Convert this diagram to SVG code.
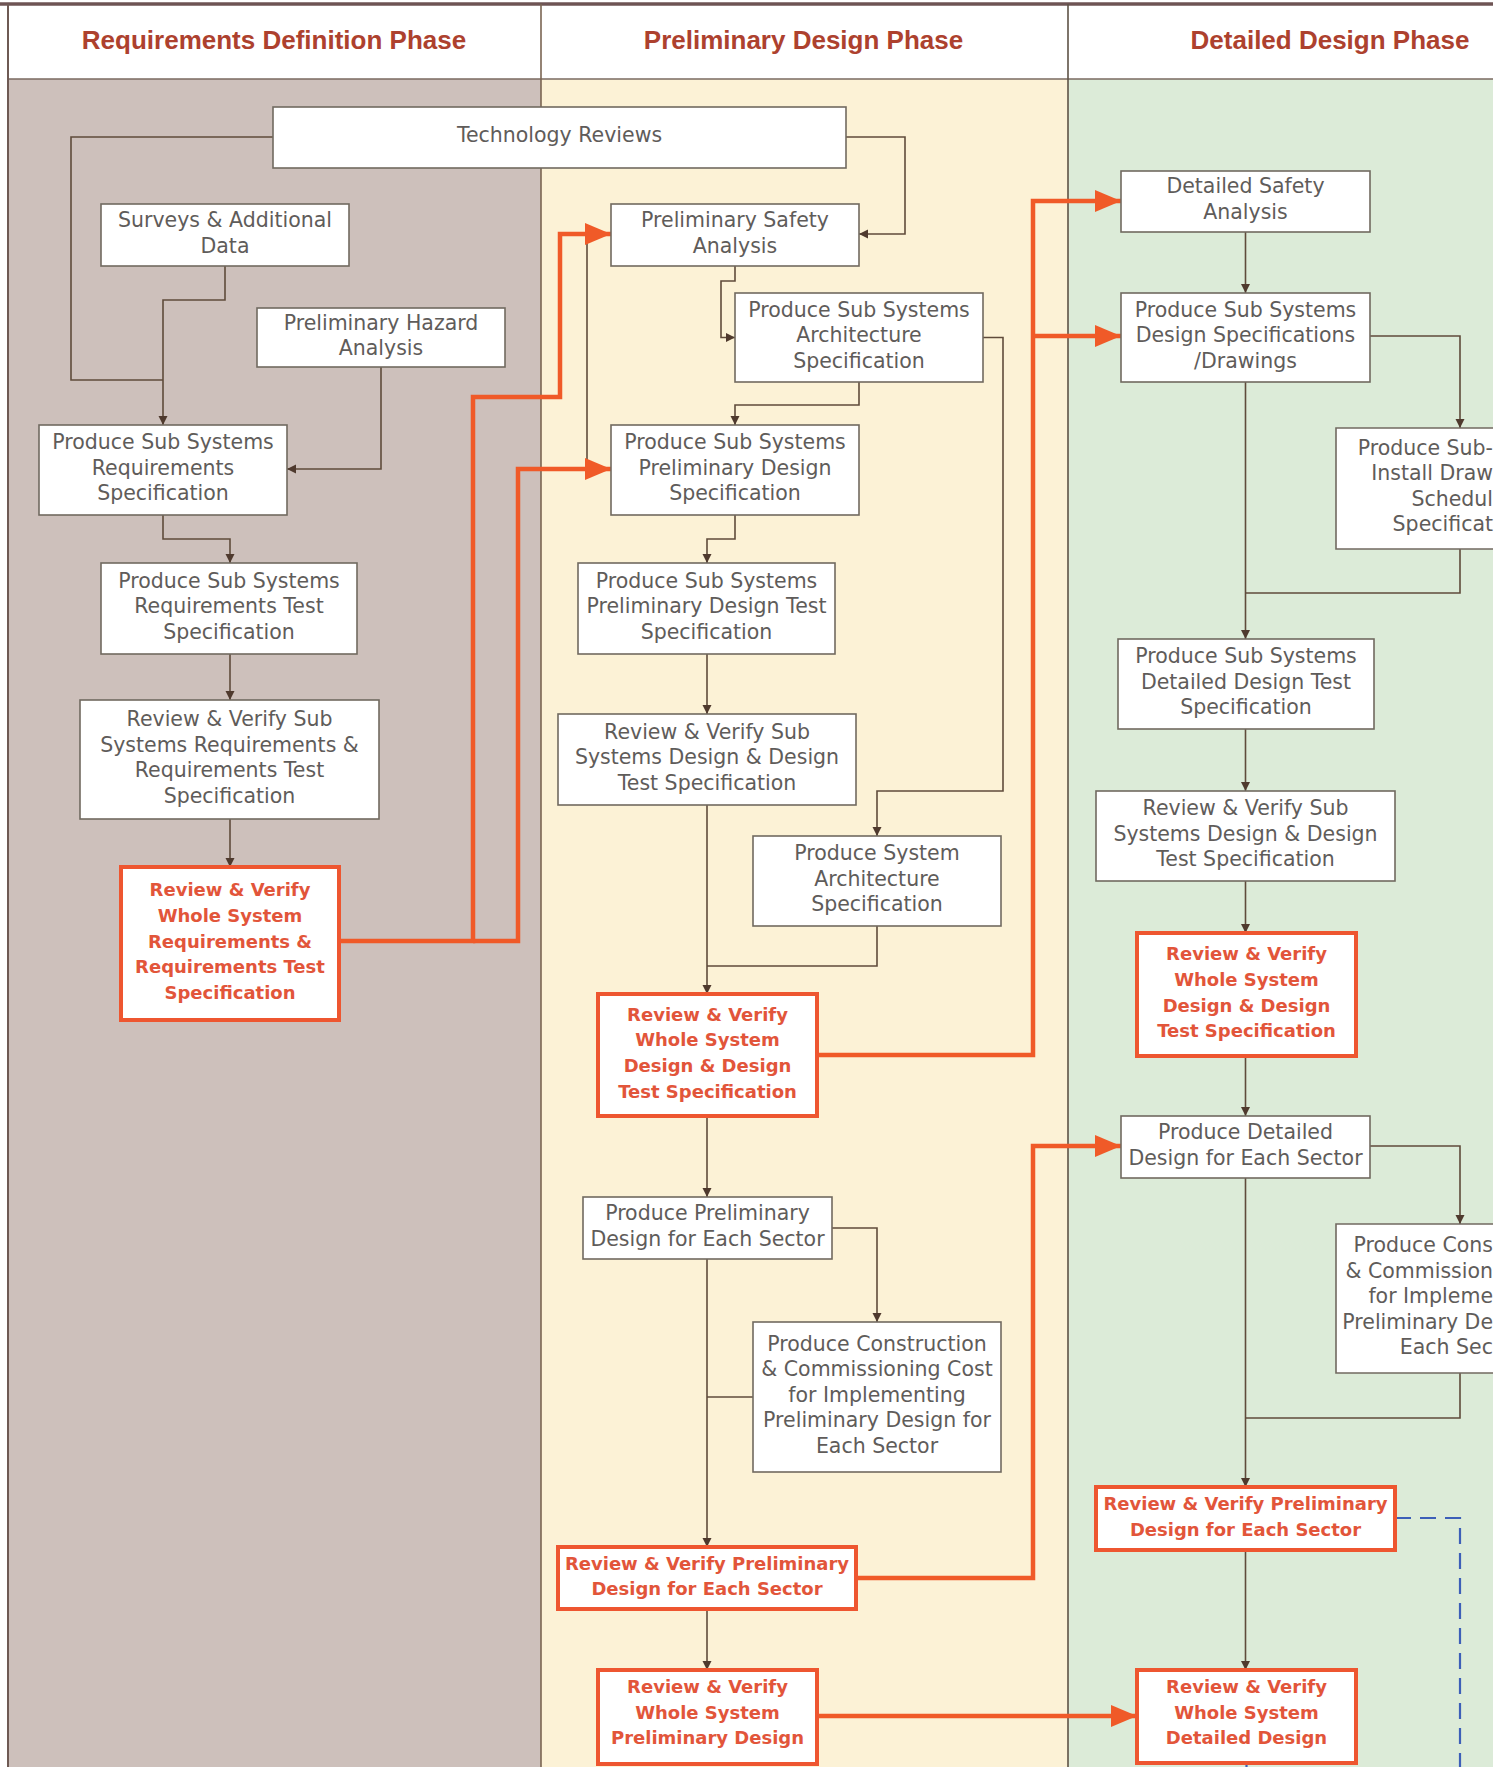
<svg xmlns="http://www.w3.org/2000/svg" width="1501" height="1767" viewBox="0 0 1501 1767">
<style>
.box{fill:#fff;stroke:#716a60;stroke-width:1.6}
.rbox{fill:#fff;stroke:#ee5630;stroke-width:4}
.t{font-family:"DejaVu Sans","Liberation Sans",sans-serif;font-size:20.5px;fill:#5f5c5a;text-anchor:middle}
.te{font-family:"DejaVu Sans","Liberation Sans",sans-serif;font-size:20.5px;fill:#5f5c5a;text-anchor:end}
.rt{font-family:"DejaVu Sans","Liberation Sans",sans-serif;font-weight:bold;font-size:18px;fill:#e2553a;text-anchor:middle}
.hd{font-family:"Liberation Sans",Arial,sans-serif;font-weight:bold;font-size:26px;fill:#ad412e;text-anchor:middle}
.ln{fill:none;stroke:#5f4b3b;stroke-width:1.6}
.rl{fill:none;stroke:#f05a28;stroke-width:4.5}
.bl{fill:none;stroke:#3d5fb8;stroke-width:2.2;stroke-dasharray:16 9}
</style>
<defs>
<marker id="ah" markerUnits="userSpaceOnUse" markerWidth="10" markerHeight="10" refX="9" refY="4.5" orient="auto"><path d="M0,0 L9,4.5 L0,9 z" fill="#4f3a2e"/></marker>
<marker id="rah" markerUnits="userSpaceOnUse" markerWidth="28" markerHeight="24" refX="26" refY="11" orient="auto"><path d="M0,0 L26,11 L0,22 z" fill="#f05a28"/></marker>
</defs>

<g id="background">
<rect x="0" y="0" width="1501" height="1767" fill="#fff"/>
<rect x="9" y="79" width="532" height="1688" fill="#cdc0bb"/>
<rect x="541" y="79" width="527" height="1688" fill="#fcf2d6"/>
<rect x="1068" y="79" width="425" height="1688" fill="#dcebd8"/>
<line x1="0" y1="4" x2="1493" y2="4" stroke="#6e5454" stroke-width="3.5"/>
<line x1="9" y1="79" x2="1493" y2="79" stroke="#7a6a60" stroke-width="1.5"/>
<line x1="8" y1="4" x2="8" y2="1767" stroke="#6e5a54" stroke-width="2"/>
<line x1="541" y1="4" x2="541" y2="1767" stroke="#7a6552" stroke-width="1.6"/>
<line x1="1068" y1="4" x2="1068" y2="1767" stroke="#5d5246" stroke-width="1.6"/>
<text class="hd" x="274" y="49">Requirements Definition Phase</text>
<text class="hd" x="803.5" y="49">Preliminary Design Phase</text>
<text class="hd" x="1330" y="49">Detailed Design Phase</text>
</g>

<g id="connectors">
<path class="ln" d="M273,137 H71 V380 H163"/>
<path class="ln" d="M225,266 V300 H163 V425" marker-end="url(#ah)"/>
<path class="ln" d="M381,367 V469 H287" marker-end="url(#ah)"/>
<path class="ln" d="M163,515 V539 H230 V563" marker-end="url(#ah)"/>
<path class="ln" d="M230,654 V700" marker-end="url(#ah)"/>
<path class="ln" d="M230,819 V867" marker-end="url(#ah)"/>
<path class="ln" d="M846,137 H905 V234 H859" marker-end="url(#ah)"/>
<path class="ln" d="M735,266 V281 H721 V337.5 H735" marker-end="url(#ah)"/>
<path class="ln" d="M859,382 V405 H735 V425" marker-end="url(#ah)"/>
<path class="ln" d="M587,234 V469"/>
<path class="ln" d="M983,337.5 H1003 V791 H877 V836" marker-end="url(#ah)"/>
<path class="ln" d="M735,515 V539 H707 V563" marker-end="url(#ah)"/>
<path class="ln" d="M707,654 V714" marker-end="url(#ah)"/>
<path class="ln" d="M707,805 V994" marker-end="url(#ah)"/>
<path class="ln" d="M877,926 V966 H707"/>
<path class="ln" d="M707,1116 V1197" marker-end="url(#ah)"/>
<path class="ln" d="M832,1228 H877 V1322" marker-end="url(#ah)"/>
<path class="ln" d="M707,1259 V1547" marker-end="url(#ah)"/>
<path class="ln" d="M753,1397 H707"/>
<path class="ln" d="M707,1609 V1670" marker-end="url(#ah)"/>
<path class="ln" d="M1245.5,232 V293" marker-end="url(#ah)"/>
<path class="ln" d="M1370,336 H1460 V428" marker-end="url(#ah)"/>
<path class="ln" d="M1245.5,382 V639" marker-end="url(#ah)"/>
<path class="ln" d="M1460,549 V593 H1245.5"/>
<path class="ln" d="M1245.5,729 V791" marker-end="url(#ah)"/>
<path class="ln" d="M1245.5,881 V933" marker-end="url(#ah)"/>
<path class="ln" d="M1245.5,1056 V1116" marker-end="url(#ah)"/>
<path class="ln" d="M1370,1146 H1460 V1224" marker-end="url(#ah)"/>
<path class="ln" d="M1245.5,1178 V1487" marker-end="url(#ah)"/>
<path class="ln" d="M1460,1373 V1418 H1245.5"/>
<path class="ln" d="M1245.5,1550 V1670" marker-end="url(#ah)"/>
<path class="rl" d="M339,941 H473 V397 H560 V234 H611" marker-end="url(#rah)"/>
<path class="rl" d="M473,941 H518 V469 H611" marker-end="url(#rah)"/>
<path class="rl" d="M817,1055 H1033 V201 H1121" marker-end="url(#rah)"/>
<path class="rl" d="M1033,336 H1121" marker-end="url(#rah)"/>
<path class="rl" d="M856,1578 H1033 V1146 H1121" marker-end="url(#rah)"/>
<path class="rl" d="M817,1716 H1137" marker-end="url(#rah)"/>
<path class="bl" d="M1395,1518 H1460 V1767"/>
<path class="bl" d="M1246.5,1764 V1767"/>
</g>

<g id="n-tech"><rect class="box" x="273" y="107" width="573" height="61"/><text class="t" x="559.5" y="142">Technology Reviews</text></g>
<g id="n-surveys"><rect class="box" x="101" y="204" width="248" height="62"/><text class="t" x="225" y="226.5">Surveys &amp; Additional</text><text class="t" x="225" y="252.5">Data</text></g>
<g id="n-pha"><rect class="box" x="257" y="308" width="248" height="59"/><text class="t" x="381" y="329.5">Preliminary Hazard</text><text class="t" x="381" y="354.5">Analysis</text></g>
<g id="n-reqspec"><rect class="box" x="39" y="425" width="248" height="90"/><text class="t" x="163" y="449">Produce Sub Systems</text><text class="t" x="163" y="474.5">Requirements</text><text class="t" x="163" y="500">Specification</text></g>
<g id="n-reqtest"><rect class="box" x="101" y="563" width="256" height="91"/><text class="t" x="229" y="587.5">Produce Sub Systems</text><text class="t" x="229" y="613">Requirements Test</text><text class="t" x="229" y="638.5">Specification</text></g>
<g id="n-rvreq"><rect class="box" x="80" y="700" width="299" height="119"/><text class="t" x="229.5" y="725.5">Review &amp; Verify Sub</text><text class="t" x="229.5" y="751.5">Systems Requirements &amp;</text><text class="t" x="229.5" y="776.5">Requirements Test</text><text class="t" x="229.5" y="802.5">Specification</text></g>
<g id="n-rvwholereq"><rect class="rbox" x="121" y="867" width="218" height="153"/><text class="rt" x="230" y="896.3">Review &amp; Verify</text><text class="rt" x="230" y="922">Whole System</text><text class="rt" x="230" y="947.7">Requirements &amp;</text><text class="rt" x="230" y="973.4">Requirements Test</text><text class="rt" x="230" y="999.1">Specification</text></g>

<g id="n-psa"><rect class="box" x="611" y="204" width="248" height="62"/><text class="t" x="735" y="226.5">Preliminary Safety</text><text class="t" x="735" y="252.5">Analysis</text></g>
<g id="n-arch"><rect class="box" x="735" y="293" width="248" height="89"/><text class="t" x="859" y="316.5">Produce Sub Systems</text><text class="t" x="859" y="342">Architecture</text><text class="t" x="859" y="367.5">Specification</text></g>
<g id="n-pds"><rect class="box" x="611" y="425" width="248" height="90"/><text class="t" x="735" y="449">Produce Sub Systems</text><text class="t" x="735" y="474.5">Preliminary Design</text><text class="t" x="735" y="500">Specification</text></g>
<g id="n-pdts"><rect class="box" x="578" y="563" width="257" height="91"/><text class="t" x="706.5" y="587.5">Produce Sub Systems</text><text class="t" x="706.5" y="613">Preliminary Design Test</text><text class="t" x="706.5" y="638.5">Specification</text></g>
<g id="n-rvpd"><rect class="box" x="558" y="714" width="298" height="91"/><text class="t" x="707" y="738.5">Review &amp; Verify Sub</text><text class="t" x="707" y="764">Systems Design &amp; Design</text><text class="t" x="707" y="789.5">Test Specification</text></g>
<g id="n-sysarch"><rect class="box" x="753" y="836" width="248" height="90"/><text class="t" x="877" y="860">Produce System</text><text class="t" x="877" y="885.5">Architecture</text><text class="t" x="877" y="911">Specification</text></g>
<g id="n-rvwholepd"><rect class="rbox" x="598" y="994" width="219" height="122"/><text class="rt" x="707.5" y="1020.7">Review &amp; Verify</text><text class="rt" x="707.5" y="1046.4">Whole System</text><text class="rt" x="707.5" y="1072.1">Design &amp; Design</text><text class="rt" x="707.5" y="1097.8">Test Specification</text></g>
<g id="n-ppdsector"><rect class="box" x="583" y="1197" width="249" height="62"/><text class="t" x="707.5" y="1219.5">Produce  Preliminary</text><text class="t" x="707.5" y="1245.5">Design for Each Sector</text></g>
<g id="n-pcost"><rect class="box" x="753" y="1322" width="248" height="150"/><text class="t" x="877" y="1350.5">Produce Construction</text><text class="t" x="877" y="1376">&amp; Commissioning Cost</text><text class="t" x="877" y="1401.5">for Implementing</text><text class="t" x="877" y="1427">Preliminary Design for</text><text class="t" x="877" y="1452.5">Each Sector</text></g>
<g id="n-rvpdsector"><rect class="rbox" x="558" y="1547" width="298" height="62"/><text class="rt" x="707" y="1569.5">Review &amp; Verify Preliminary</text><text class="rt" x="707" y="1595">Design for Each Sector</text></g>
<g id="n-rvwholeprelim"><rect class="rbox" x="598" y="1670" width="219" height="94"/><text class="rt" x="707.5" y="1693">Review &amp; Verify</text><text class="rt" x="707.5" y="1718.7">Whole System</text><text class="rt" x="707.5" y="1744.4">Preliminary Design</text></g>

<g id="n-dsa"><rect class="box" x="1121" y="171" width="249" height="61"/><text class="t" x="1245.5" y="193">Detailed Safety</text><text class="t" x="1245.5" y="218.5">Analysis</text></g>
<g id="n-dspec"><rect class="box" x="1121" y="293" width="249" height="89"/><text class="t" x="1245.5" y="316.5">Produce Sub Systems</text><text class="t" x="1245.5" y="342">Design Specifications</text><text class="t" x="1245.5" y="367.5">/Drawings</text></g>
<g id="n-install"><rect x="1336" y="428" width="157" height="121" fill="#fff"/><path class="box" style="fill:none" d="M1493,428 H1336 V549 H1493"/><text class="te" x="1493" y="454.5">Produce Sub-</text><text class="te" x="1493" y="480">Install Draw</text><text class="te" x="1493" y="505.5">Schedul</text><text class="te" x="1493" y="531">Specificat</text></g>
<g id="n-ddts"><rect class="box" x="1118" y="639" width="256" height="90"/><text class="t" x="1246" y="663">Produce Sub Systems</text><text class="t" x="1246" y="688.5">Detailed Design Test</text><text class="t" x="1246" y="714">Specification</text></g>
<g id="n-rvdd"><rect class="box" x="1096" y="791" width="299" height="90"/><text class="t" x="1245.5" y="815">Review &amp; Verify Sub</text><text class="t" x="1245.5" y="840.5">Systems Design &amp; Design</text><text class="t" x="1245.5" y="866">Test Specification</text></g>
<g id="n-rvwholedd"><rect class="rbox" x="1137" y="933" width="219" height="123"/><text class="rt" x="1246.5" y="960.2">Review &amp; Verify</text><text class="rt" x="1246.5" y="985.9">Whole System</text><text class="rt" x="1246.5" y="1011.6">Design &amp; Design</text><text class="rt" x="1246.5" y="1037.3">Test Specification</text></g>
<g id="n-pddsector"><rect class="box" x="1121" y="1116" width="249" height="62"/><text class="t" x="1245.5" y="1138.5">Produce  Detailed</text><text class="t" x="1245.5" y="1164.5">Design for Each Sector</text></g>
<g id="n-pcost2"><rect x="1336" y="1224" width="157" height="149" fill="#fff"/><path class="box" style="fill:none" d="M1493,1224 H1336 V1373 H1493"/><text class="te" x="1493" y="1252">Produce Cons</text><text class="te" x="1493" y="1277.5">&amp; Commission</text><text class="te" x="1493" y="1303">for Impleme</text><text class="te" x="1493" y="1328.5">Preliminary De</text><text class="te" x="1493" y="1354">Each Sec</text></g>
<g id="n-rvddsector"><rect class="rbox" x="1096" y="1487" width="299" height="63"/><text class="rt" x="1245.5" y="1510">Review &amp; Verify Preliminary</text><text class="rt" x="1245.5" y="1535.5">Design for Each Sector</text></g>
<g id="n-rvwholedetail"><rect class="rbox" x="1137" y="1670" width="219" height="93"/><text class="rt" x="1246.5" y="1693">Review &amp; Verify</text><text class="rt" x="1246.5" y="1718.7">Whole System</text><text class="rt" x="1246.5" y="1744.4">Detailed Design</text></g>
</svg>
